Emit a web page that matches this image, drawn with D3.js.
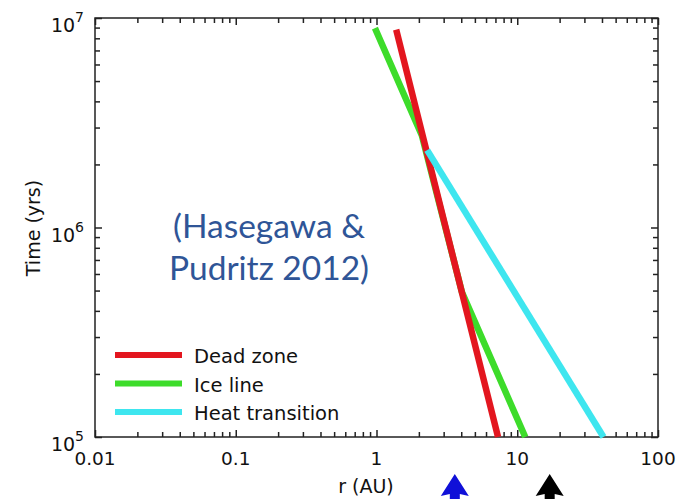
<!DOCTYPE html>
<html>
<head>
<meta charset="utf-8">
<script src="https://cdn.jsdelivr.net/npm/d3@7"></script>
<style>
  body { margin: 0; background: #fff; }
  svg { display: block; }
</style>
</head>
<body>
<div id="app"></div>
<script>
// series (r in AU, time in yrs)
const deadZoneR = [1.38, 7.3];
const deadZoneT = [8.8e6, 1e5];
const iceLineR = [0.975, 2.1, 4.05, 11.4];
const iceLineT = [8.95e6, 2.75e6, 4.9e5, 1e5];
const heatR = [2.29, 41];
const heatT = [2.34e6, 1e5];

const seriesNames = ['Dead zone', 'Ice line', 'Heat transition'];
const seriesColors = ['#e3161f', '#3ddc2a', '#3ee6ef'];

const xTicks = [0.01, 0.1, 1, 10, 100];
const xTickLabels = ['0.01', '0.1', '1', '10', '100'];
const yTicks = [1e5, 1e6, 1e7];
const yTickExps = ['5', '6', '7'];

// arrows under the x axis
const arrowR = [3.6, 17];
const arrowColors = ['#1010d8', '#000000'];

const width = 691;
const height = 499;
const margin = { top: 18, right: 33, bottom: 62, left: 95 };

const svg = d3.select('#app').append('svg')
    .attr('width', width)
    .attr('height', height);

const x = d3.scaleLog()
    .domain([0.01, 100])
    .range([margin.left, width - margin.right]);

const y = d3.scaleLog()
    .domain([1e5, 1e7])
    .range([height - margin.bottom, margin.top]);

const x0 = x.range()[0], x1 = x.range()[1];
const y0 = y.range()[0], y1 = y.range()[1];

// minor ticks (2..9 in every decade)
const minorX = [];
for (let d = 0.01; d < 100; d *= 10) for (let k = 2; k <= 9; k++) minorX.push(d * k);
const minorY = [];
for (let d = 1e5; d < 1e7; d *= 10) for (let k = 2; k <= 9; k++) minorY.push(d * k);

const axisColor = '#222';
const axes = svg.append('g');

function drawAxis(gen, tr) {
    const g = axes.append('g').attr('transform', tr).call(gen);
    g.selectAll('text').remove();
    g.select('.domain').remove();
    g.selectAll('.tick line').attr('stroke', axisColor).attr('stroke-width', 1.5);
    return g;
}

drawAxis(d3.axisBottom(x).tickValues(xTicks).tickSize(-7), `translate(0,${y0})`);
drawAxis(d3.axisBottom(x).tickValues(minorX).tickSize(-5), `translate(0,${y0})`);
drawAxis(d3.axisTop(x).tickValues(xTicks).tickSize(-7), `translate(0,${y1})`);
drawAxis(d3.axisTop(x).tickValues(minorX).tickSize(-5), `translate(0,${y1})`);
drawAxis(d3.axisLeft(y).tickValues(yTicks).tickSize(-7), `translate(${x0},0)`);
drawAxis(d3.axisLeft(y).tickValues(minorY).tickSize(-5), `translate(${x0},0)`);
drawAxis(d3.axisRight(y).tickValues(yTicks).tickSize(-7), `translate(${x1},0)`);
drawAxis(d3.axisRight(y).tickValues(minorY).tickSize(-5), `translate(${x1},0)`);

// frame
axes.append('rect')
    .attr('x', x0).attr('y', y1)
    .attr('width', x1 - x0).attr('height', y0 - y1)
    .attr('fill', 'none')
    .attr('stroke', axisColor)
    .attr('stroke-width', 1.5);

// tick labels
const labelFont = 'DejaVu Sans, sans-serif';
svg.append('g').selectAll('text')
    .data(xTicks)
    .join('text')
    .attr('x', d => x(d))
    .attr('y', y0 + 28)
    .attr('text-anchor', 'middle')
    .attr('font-family', labelFont)
    .attr('font-size', 18.5)
    .attr('fill', '#111')
    .text((d, i) => xTickLabels[i]);

const yLab = svg.append('g').selectAll('text')
    .data(yTicks)
    .join('text')
    .attr('x', x0 - 11)
    .attr('y', d => y(d) + 14)
    .attr('text-anchor', 'end')
    .attr('font-family', labelFont)
    .attr('font-size', 19)
    .attr('fill', '#111');
yLab.append('tspan').text('10');
yLab.append('tspan')
    .attr('dy', -10)
    .attr('font-size', 14)
    .text((d, i) => yTickExps[i]);

// axis titles
svg.append('text')
    .attr('transform', `translate(40, 228) rotate(-90)`)
    .attr('text-anchor', 'middle')
    .attr('font-family', labelFont)
    .attr('font-size', 19)
    .attr('fill', '#111')
    .text('Time (yrs)');

svg.append('text')
    .attr('x', 366)
    .attr('y', 493)
    .attr('text-anchor', 'middle')
    .attr('font-family', labelFont)
    .attr('font-size', 19)
    .attr('fill', '#111')
    .text('r (AU)');

// curves
const line = d3.line().x(d => x(d[0])).y(d => y(d[1]));
const curves = [
    { r: iceLineR, t: iceLineT, c: seriesColors[1] },
    { r: deadZoneR, t: deadZoneT, c: seriesColors[0] },
    { r: heatR, t: heatT, c: seriesColors[2] },
];
svg.append('g').selectAll('path')
    .data(curves)
    .join('path')
    .attr('d', d => line(d3.zip(d.r, d.t)))
    .attr('fill', 'none')
    .attr('stroke', d => d.c)
    .attr('stroke-width', 6.5)
    .attr('stroke-linejoin', 'round');

// legend
const legend = svg.append('g').attr('transform', 'translate(115, 355)');
seriesNames.forEach((name, i) => {
    const g = legend.append('g').attr('transform', `translate(0, ${i * 28.5})`);
    g.append('line')
        .attr('x1', 0).attr('x2', 67)
        .attr('stroke', seriesColors[i])
        .attr('stroke-width', 6);
    g.append('text')
        .attr('x', 79)
        .attr('y', 8)
        .attr('font-family', labelFont)
        .attr('font-size', 19.5)
        .attr('fill', '#111')
        .text(name);
});

// citation
const cite = svg.append('text')
    .attr('text-anchor', 'middle')
    .attr('font-family', 'Lato, sans-serif')
    .attr('font-size', 33.5)
    .attr('fill', '#2f5597');
cite.append('tspan').attr('x', 269).attr('y', 238).text('(Hasegawa &');
cite.append('tspan').attr('x', 269).attr('y', 280).text('Pudritz 2012)');

// arrows
svg.append('g').selectAll('path')
    .data(arrowR)
    .join('path')
    .attr('transform', d => `translate(${x(d)}, 474)`)
    .attr('d', 'M0,0 L14,22 L5,20 L5,26 L-5,26 L-5,20 L-14,22 Z')
    .attr('fill', (d, i) => arrowColors[i]);
</script>
</body>
</html>
